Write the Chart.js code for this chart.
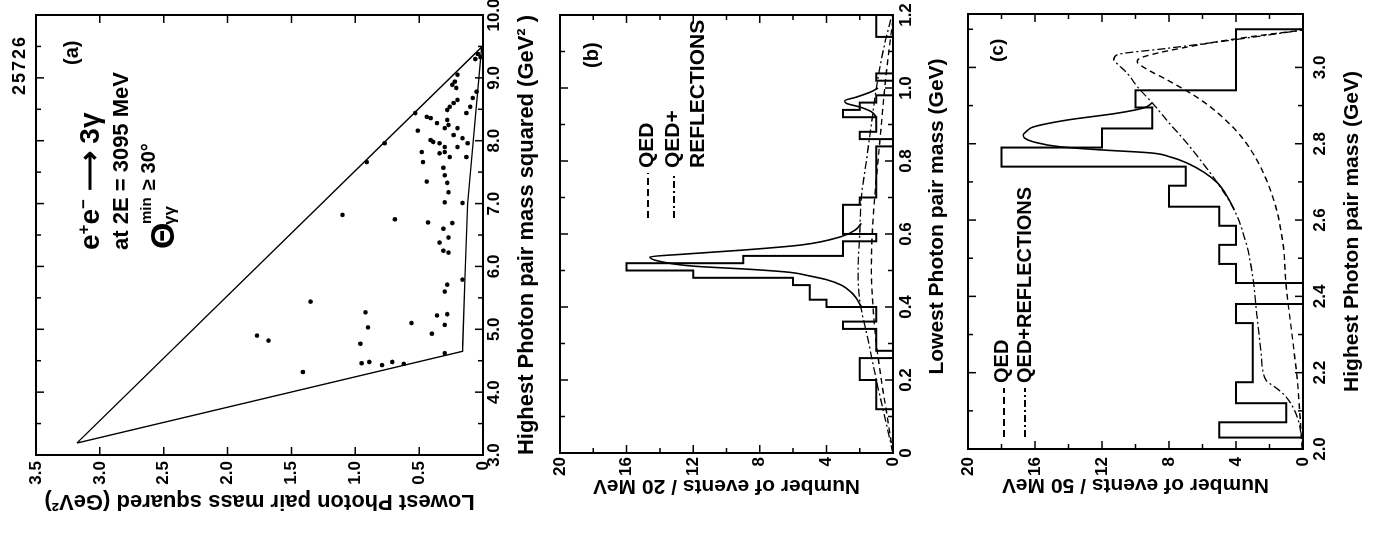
<!DOCTYPE html>
<html lang="en">
<head>
<meta charset="UTF-8">
<title>e+e- → 3γ at 2E = 3095 MeV</title>
<script src="https://cdn.jsdelivr.net/npm/chart.js@4"></script>
<style>
    html, body { margin: 0; padding: 0; background: #fff; }
    body { width: 1374px; height: 536px; overflow: hidden; position: relative;
           font-family: 'Liberation Sans', Arial, sans-serif; color: #000; }
    /* the figure is laid out upright, then turned a quarter turn like the scan */
    #page { position: absolute; left: 0; top: 0; width: 536px; height: 1374px;
            transform-origin: 0 0; transform: translateY(536px) rotate(-90deg); }
    #page canvas { position: absolute; left: 0; }
    .note { position: absolute; white-space: nowrap; line-height: 1; font-weight: bold; }
    .key { position: absolute; width: 45px; }
    .dash { height: 2px; background: repeating-linear-gradient(90deg, #000 0 7px, transparent 7px 11px); }
    .dashdot { height: 2px; background: repeating-linear-gradient(90deg, #000 0 7px, transparent 7px 10px, #000 10px 12px, transparent 12px 15px); }
</style>
</head>
<body>
<div id="page">
    <canvas id="chartA" width="536" height="548" style="top:0"></canvas>
    <canvas id="chartB" width="536" height="407" style="top:548px"></canvas>
    <canvas id="chartC" width="536" height="419" style="top:955px"></canvas>

    <div class="note" style="left:441px;top:10px;font-size:18px;letter-spacing:2px">25726</div>
    <div class="note" style="left:471px;top:61px;font-size:20px">(a)</div>
    <div class="note" style="left:286px;top:76px;font-size:28px">e<sup style="font-size:0.6em">+</sup>e<sup style="font-size:0.6em">−</sup> ⟶ 3γ</div>
    <div class="note" style="left:286px;top:110px;font-size:22px">at 2E = 3095 MeV</div>
    <div class="note" style="left:287px;top:145px;font-size:34px">Θ</div>
    <div class="note" style="left:312px;top:138px;font-size:15px">min</div>
    <div class="note" style="left:311px;top:161px;font-size:17px">γγ</div>
    <div class="note" style="left:346px;top:138px;font-size:20px">≥ 30°</div>

    <div class="note" style="left:468px;top:581px;font-size:20px">(b)</div>
    <div class="key dash" style="left:318px;top:647px"></div>
    <div class="note" style="left:368px;top:635px;font-size:21px">QED</div>
    <div class="key dashdot" style="left:318px;top:673px"></div>
    <div class="note" style="left:368px;top:661px;font-size:21px">QED+</div>
    <div class="note" style="left:368px;top:686px;font-size:21px">REFLECTIONS</div>

    <div class="note" style="left:474px;top:987px;font-size:19px">(c)</div>
    <div class="key dash" style="left:99px;top:1003px;width:49px"></div>
    <div class="note" style="left:153px;top:991px;font-size:20px">QED</div>
    <div class="key dashdot" style="left:99px;top:1024px;width:49px"></div>
    <div class="note" style="left:153px;top:1014px;font-size:20px">QED+REFLECTIONS</div>
</div>

<script>
// ---- (a) Dalitz plot: highest vs lowest photon pair mass squared (GeV^2) ----
const aHigh = [9.38, 9.33, 9.30, 9.05, 8.94, 8.89, 8.84, 8.78, 8.68, 8.65, 8.60, 8.54, 8.49, 8.54, 8.44,
               8.44, 8.38, 8.36, 8.33, 8.28, 8.25, 8.20, 8.20, 8.16, 8.09, 8.04, 8.01, 7.98, 7.96, 7.96,
               7.96, 7.90, 7.90, 7.82, 7.82, 7.80, 7.74, 7.74, 7.66, 7.66, 7.57, 7.45, 7.35, 7.33, 7.18,
               7.02, 7.01, 6.82, 6.75, 6.70, 6.69, 6.60, 6.46, 6.38, 6.25, 6.22, 5.79, 5.71, 5.60, 5.44,
               5.27, 5.24, 5.22, 5.10, 5.07, 5.03, 4.93, 4.90, 4.82, 4.77, 4.62, 4.48, 4.48, 4.46, 4.45,
               4.43, 4.32];
const aLow  = [0.04, 0.02, 0.06, 0.20, 0.22, 0.24, 0.21, 0.05, 0.08, 0.20, 0.23, 0.26, 0.28, 0.10, 0.13,
               0.53, 0.44, 0.41, 0.28, 0.36, 0.27, 0.30, 0.20, 0.51, 0.23, 0.16, 0.41, 0.39, 0.34, 0.77,
               0.12, 0.30, 0.20, 0.48, 0.30, 0.34, 0.26, 0.13, 0.47, 0.91, 0.31, 0.30, 0.44, 0.28, 0.27,
               0.30, 0.16, 1.10, 0.69, 0.43, 0.24, 0.31, 0.27, 0.34, 0.31, 0.27, 0.16, 0.28, 0.30, 1.35,
               0.92, 0.28, 0.36, 0.56, 0.30, 0.90, 0.40, 1.77, 1.68, 0.96, 0.30, 0.89, 0.71, 0.95, 0.62,
               0.79, 1.41];
// allowed region outline
const aEdgeHigh = [3.19, 4.65, 5.90, 7.00, 9.49, 3.19];
const aEdgeLow  = [3.18, 0.16, 0.14, 0.12, 0.01, 3.18];

// ---- (b) lowest photon pair mass, 20 MeV bins from 0 ----
const bBinStart = 0, bBinWidth = 0.02;
const bCounts = [0, 0, 0, 0, 0, 0, 0, 1, 1, 1,
                 1, 2, 2, 2, 0, 1, 1, 1, 3, 1,
                 1, 4, 5, 5, 6, 12, 16, 9, 3, 3,
                 1, 3, 3, 3, 3, 2, 1, 1, 1, 1,
                 1, 1, 1, 0, 2, 1, 1, 3, 2, 1,
                 0, 0, 1, 0, 0, 0, 0, 0, 1, 1];
const bFitMass  = [0.40, 0.424, 0.44, 0.46, 0.475, 0.485, 0.495, 0.503, 0.512, 0.525, 0.537, 0.545, 0.556, 0.57, 0.593, 0.61, 0.629];
const bFitCount = [1.9, 2.2, 2.5, 3.1, 4.0, 5.0, 6.2, 8.5, 12.0, 14.0, 14.6, 12.5, 9.0, 5.5, 3.1, 2.3, 1.9];
const bFit2Mass  = [0.92, 0.935, 0.948, 0.958, 0.965, 0.975, 0.99, 1.0];
const bFit2Count = [1.0, 1.3, 2.0, 2.8, 2.9, 2.2, 1.3, 0.9];
const bQedMass  = [0, 0.1, 0.2, 0.3, 0.4, 0.5, 0.6, 0.7, 0.8, 0.9, 1.0, 1.1, 1.19];
const bQedCount = [0, 0.35, 0.7, 1.0, 1.2, 1.3, 1.25, 1.1, 0.9, 0.7, 0.5, 0.25, 0];
const bRefMass  = [0, 0.1, 0.2, 0.3, 0.42, 0.5, 0.6, 0.7, 0.8, 0.9, 1.0, 1.1, 1.15, 1.2];
const bRefCount = [0, 0.5, 1.0, 1.45, 2.0, 2.1, 2.0, 1.9, 1.6, 1.3, 1.0, 0.6, 0.35, 0.05];

// ---- (c) highest photon pair mass, 50 MeV bins ----
const cEdges  = [2.03, 2.07, 2.12, 2.175, 2.225, 2.275, 2.33, 2.38, 2.435, 2.485, 2.535,
                 2.585, 2.635, 2.69, 2.74, 2.79, 2.84, 2.895, 2.94, 2.995, 3.045, 3.10];
const cCounts = [1, 5, 1, 4, 3, 3, 3, 4, 0, 4, 5, 4, 5, 8, 7, 18, 12, 9, 10, 4, 4];
const cFitMass  = [2.626, 2.66, 2.697, 2.725, 2.749, 2.765, 2.776, 2.784, 2.792, 2.805, 2.814, 2.823, 2.833, 2.844, 2.862, 2.880, 2.894, 2.907];
const cFitCount = [4.1, 4.5, 5.1, 5.9, 6.9, 7.9, 9.1, 12.1, 14.5, 16.1, 16.6, 16.7, 16.5, 16.1, 14.1, 11.1, 9.5, 9.0];
const cQedMass  = [2.0, 2.10, 2.19, 2.28, 2.425, 2.54, 2.66, 2.776, 2.844, 2.915, 2.967, 3.0, 3.015, 3.025, 3.06, 3.08, 3.098];
const cQedCount = [0.05, 0.2, 0.36, 0.6, 1.0, 1.2, 1.8, 3.0, 4.2, 6.1, 8.1, 9.5, 9.9, 9.7, 6.1, 3.2, 0];
const cRefMass  = [2.0, 2.05, 2.09, 2.136, 2.16, 2.18, 2.25, 2.35, 2.45, 2.54, 2.626, 2.697, 2.75, 2.80, 2.85, 2.907, 2.95, 2.985, 3.01, 3.02, 3.033, 3.05, 3.072, 3.098];
const cRefCount = [0, 0.15, 0.4, 1.0, 1.6, 2.2, 2.5, 2.75, 3.0, 3.4, 4.1, 5.1, 6.0, 6.9, 7.9, 9.0, 9.9, 10.5, 11.1, 11.3, 11.1, 8.1, 4.2, 0];

const FONT = "'Liberation Sans', Arial, sans-serif";

function zip(xs, ys) {
    return xs.map((x, i) => ({ x: x, y: ys[i] }));
}

// outline of a histogram, stepped after each bin edge
function histPoints(edges, counts) {
    const pts = [{ x: edges[0], y: 0 }];
    counts.forEach((c, i) => pts.push({ x: edges[i], y: c }));
    const last = edges[edges.length - 1];
    pts.push({ x: last, y: counts[counts.length - 1] });
    pts.push({ x: last, y: 0 });
    return pts;
}

// box round the plot with inward ticks on all four sides
const frame = {
    id: 'frame',
    afterDatasetsDraw(chart) {
        const { ctx, chartArea: a, scales } = chart;
        ctx.save();
        ctx.strokeStyle = '#000';
        ctx.lineWidth = 2;
        ctx.strokeRect(a.left, a.top, a.right - a.left, a.bottom - a.top);
        ctx.lineWidth = 1.5;
        ['x', 'y'].forEach(id => {
            const s = scales[id];
            s.ticks.forEach(t => {
                const p = s.getPixelForValue(t.value);
                const len = t.label ? 8 : 5;
                ctx.beginPath();
                if (id === 'x') {
                    ctx.moveTo(p, a.bottom); ctx.lineTo(p, a.bottom - len);
                    ctx.moveTo(p, a.top); ctx.lineTo(p, a.top + len);
                } else {
                    ctx.moveTo(a.left, p); ctx.lineTo(a.left + len, p);
                    ctx.moveTo(a.right, p); ctx.lineTo(a.right - len, p);
                }
                ctx.stroke();
            });
        });
        ctx.restore();
    }
};

function scaleOpts(o) {
    return {
        type: 'linear',
        min: o.min,
        max: o.max,
        grid: { display: false, drawTicks: false },
        border: { display: false },
        ticks: {
            stepSize: o.step, autoSkip: false, maxRotation: 0, minRotation: 0, includeBounds: false,
            padding: o.tickPad, color: '#000',
            font: { family: FONT, size: 17, weight: 'bold' },
            callback: o.cb
        },
        title: {
            display: true, text: o.title, color: '#000',
            font: { family: FONT, size: o.titleSize, weight: 'bold' },
            padding: o.titlePad
        },
        afterFit(s) {
            if (s.isHorizontal()) s.height = o.size; else s.width = o.size;
            s.paddingLeft = s.paddingRight = s.paddingTop = s.paddingBottom = 0;
        }
    };
}

function baseOpts(pad, x, y) {
    return {
        responsive: false,
        animation: false,
        events: [],
        layout: { padding: pad },
        plugins: { legend: { display: false }, tooltip: { enabled: false } },
        scales: { x: scaleOpts(x), y: scaleOpts(y) }
    };
}

const countLabel = v => (Math.round(v) % 4 === 0 ? String(Math.round(v)) : '');
const evenTenth = v => {
    const k = Math.round(v * 10);
    if (k % 2 !== 0) return '';
    return k === 0 ? '0' : (k / 10).toFixed(1);
};

const line = (data, extra) => Object.assign({
    data: data, showLine: true, borderColor: '#000', borderWidth: 1.5,
    pointRadius: 0, fill: false, cubicInterpolationMode: 'monotone'
}, extra);

// (a)
new Chart(document.getElementById('chartA'), {
    type: 'scatter',
    data: {
        datasets: [
            line(zip(aEdgeHigh, aEdgeLow), { borderWidth: 1.4, cubicInterpolationMode: 'default', tension: 0 }),
            { data: zip(aHigh, aLow), pointRadius: 2.3, pointBackgroundColor: '#000', pointBorderWidth: 0 }
        ]
    },
    options: baseOpts({ top: 36, right: 15, bottom: 0, left: 0 },
        { min: 3, max: 10, step: 0.5, tickPad: 1, size: 65, titleSize: 22,
          title: 'Highest Photon pair mass squared (GeV² )', titlePad: { top: 0, bottom: 8 },
          cb: v => (Math.abs(v - Math.round(v)) < 1e-6 ? v.toFixed(1) : '') },
        { min: 0, max: 3.5, step: 0.5, tickPad: 6, size: 81, titleSize: 22,
          title: 'Lowest Photon pair mass squared (GeV²)', titlePad: { top: 22, bottom: 0 },
          cb: v => (Math.abs(v) < 1e-6 ? '0' : v.toFixed(1)) }),
    plugins: [frame]
});

// (b)
const bEdges = bCounts.map((_, i) => +(bBinStart + i * bBinWidth).toFixed(2))
    .concat(+(bBinStart + bCounts.length * bBinWidth).toFixed(2));
const bFit = zip(bFitMass, bFitCount).concat([{ x: 0.8, y: null }], zip(bFit2Mass, bFit2Count));

new Chart(document.getElementById('chartB'), {
    type: 'scatter',
    data: {
        datasets: [
            line(histPoints(bEdges, bCounts), { borderWidth: 2, stepped: 'after', cubicInterpolationMode: 'default' }),
            line(bFit, { borderWidth: 1.6 }),
            line(zip(bQedMass, bQedCount), { borderWidth: 1.4, borderDash: [6, 4] }),
            line(zip(bRefMass, bRefCount), { borderWidth: 1.3, borderDash: [8, 3, 2, 3] })
        ]
    },
    options: baseOpts({ top: 12, right: 15, bottom: 0, left: 0 },
        { min: 0, max: 1.2, step: 0.1, tickPad: 3, size: 62, titleSize: 21,
          title: '      Lowest Photon pair mass (GeV)', titlePad: { top: 0, bottom: 5 }, cb: evenTenth },
        { min: 0, max: 20, step: 2, tickPad: 4, size: 83, titleSize: 21,
          title: 'Number of events / 20 MeV', titlePad: { top: 38, bottom: 0 }, cb: countLabel }),
    plugins: [frame]
});

// (c)
new Chart(document.getElementById('chartC'), {
    type: 'scatter',
    data: {
        datasets: [
            line(histPoints(cEdges, cCounts), { borderWidth: 2, stepped: 'after', cubicInterpolationMode: 'default' }),
            line(zip(cFitMass, cFitCount), { borderWidth: 1.6 }),
            line(zip(cQedMass, cQedCount), { borderWidth: 1.4, borderDash: [6, 4] }),
            line(zip(cRefMass, cRefCount), { borderWidth: 1.3, borderDash: [8, 3, 2, 3] })
        ]
    },
    options: baseOpts({ top: 13, right: 14, bottom: 0, left: 0 },
        { min: 2.0, max: 3.14, step: 0.1, tickPad: 7, size: 71, titleSize: 21,
          title: 'Highest Photon pair mass (GeV)', titlePad: { top: 0, bottom: 9 }, cb: evenTenth },
        { min: 0, max: 20, step: 2, tickPad: 8, size: 87, titleSize: 21,
          title: 'Number of events / 50 MeV', titlePad: { top: 39, bottom: 0 }, cb: countLabel }),
    plugins: [frame]
});
</script>
</body>
</html>
